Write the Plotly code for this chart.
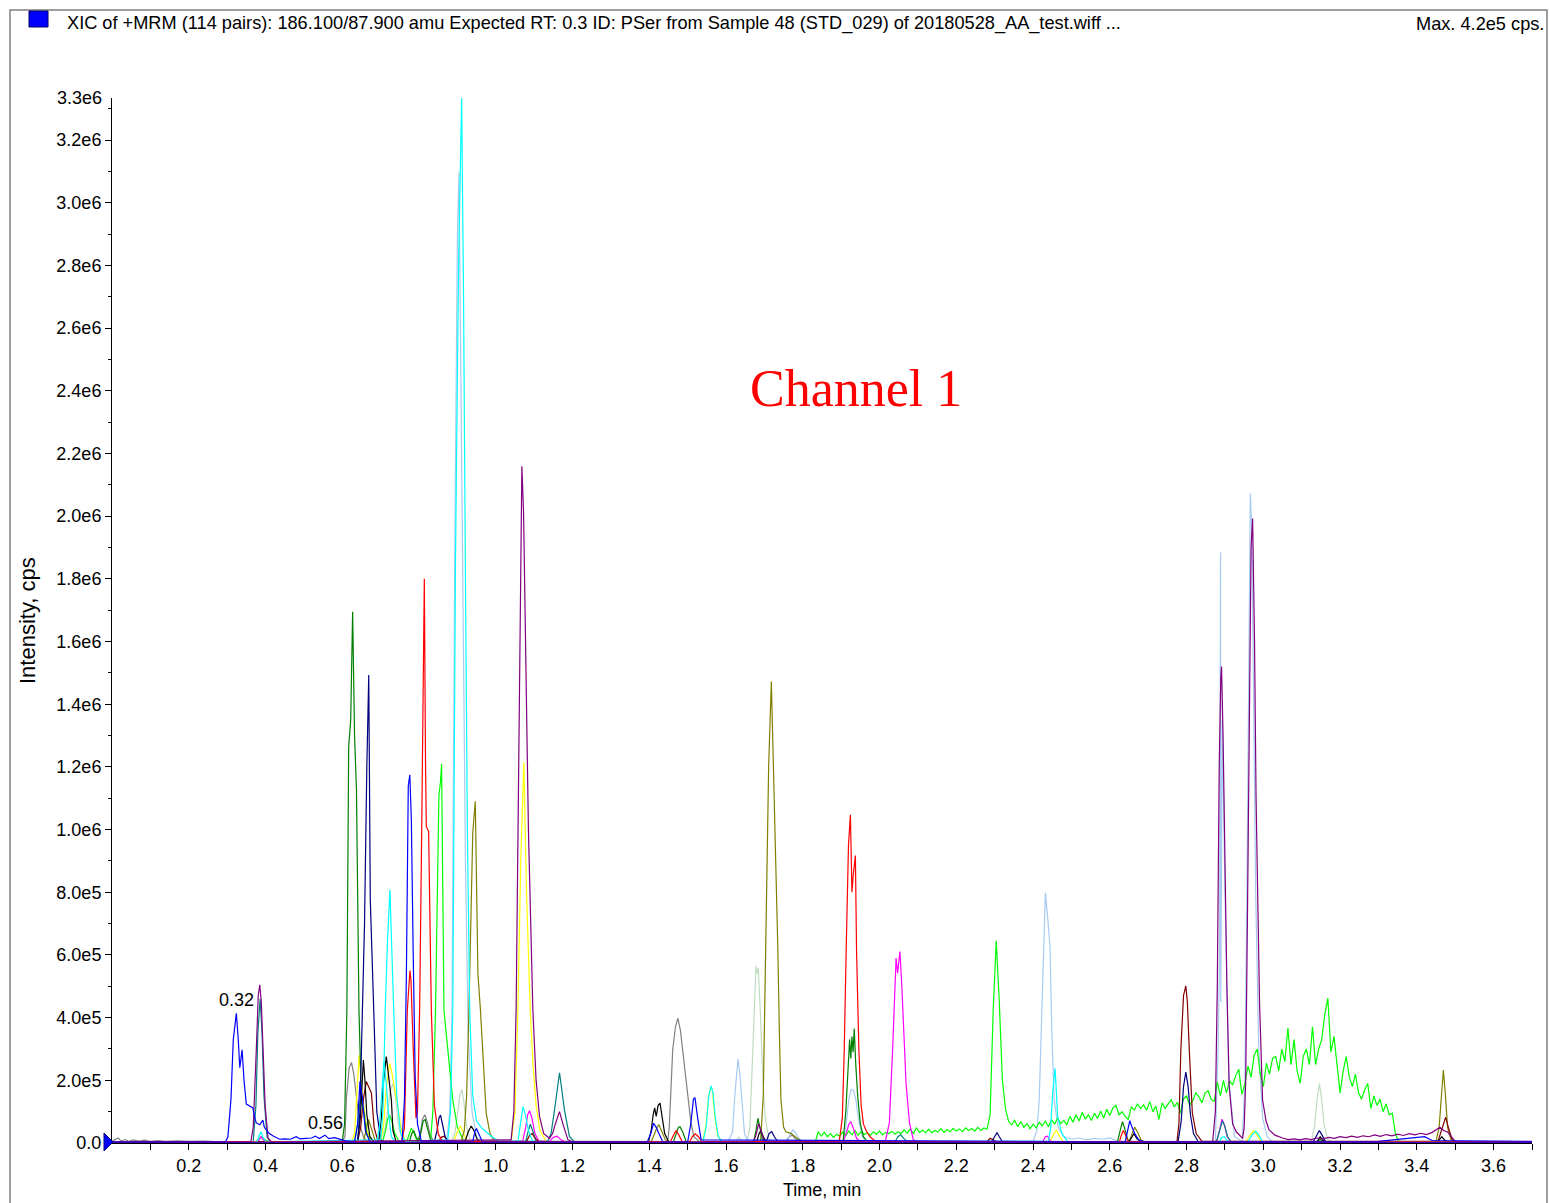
import plotly.graph_objects as go

# ---------------- data (time in min, intensity in 1e6 cps) ----------------
BASE_T = [0.0, 3.70]
BASE_I = [0.0, 0.0]

GRAY = [(0.000,0.006),(0.008,0.012),(0.016,0.016),(0.024,0.006),(0.034,0.011),(0.045,0.005),(0.056,0.010),
        (0.07,0.006),(0.085,0.009),(0.10,0.005),(0.12,0.008),(0.14,0.005),(0.17,0.007),(0.20,0.005),(0.24,0.006),
        (0.28,0.004),(0.40,0.004),(0.600,0.005),(0.607,0.02),(0.611,0.148),(0.618,0.24),(0.624,0.257),(0.630,0.22),
        (0.637,0.148),(0.645,0.06),(0.655,0.02),(0.665,0.005),(0.795,0.004),(0.803,0.03),(0.809,0.075),(0.815,0.09),
        (0.821,0.07),(0.828,0.03),(0.838,0.004),(1.448,0.005),(1.452,0.05),(1.457,0.17),(1.461,0.297),(1.468,0.37),
        (1.4745,0.398),(1.481,0.36),(1.487,0.297),(1.500,0.17),(1.508,0.07),(1.516,0.02),(1.530,0.005),(1.755,0.004),
        (1.765,0.02),(1.772,0.025),(1.782,0.012),(1.795,0.004),(3.70,0.004)]

SKY = [(0.0,0.003),(0.872,0.004),(0.880,0.1),(0.886,0.425),(0.893,1.86),(0.900,2.9),(0.904,3.096),(0.908,2.6),
       (0.914,1.86),(0.921,0.9),(0.928,0.35),(0.938,0.1),(0.950,0.02),(0.965,0.004),(1.605,0.004),(1.617,0.035),
       (1.622,0.137),(1.627,0.23),(1.631,0.268),(1.636,0.22),(1.642,0.137),(1.648,0.03),(1.658,0.004),(1.760,0.004),
       (1.768,0.03),(1.775,0.042),(1.782,0.03),(1.792,0.01),(1.800,0.004),(1.905,0.004),(1.912,0.05),(1.920,0.14),
       (1.926,0.17),(1.932,0.168),(1.938,0.14),(1.946,0.07),(1.955,0.02),(1.965,0.004),(2.400,0.005),(2.410,0.04),
       (2.416,0.137),(2.422,0.4),(2.428,0.7),(2.432,0.798),(2.438,0.72),(2.444,0.627),(2.449,0.35),(2.455,0.137),
       (2.465,0.05),(2.480,0.02),(2.500,0.012),(2.52,0.016),(2.54,0.01),(2.56,0.015),(2.58,0.012),(2.60,0.016),
       (2.62,0.006),(2.875,0.004),(2.882,0.3),(2.886,0.6),(2.8885,1.884),(2.889,0.45),(2.893,1.35),(2.900,0.8),
       (2.910,0.2),(2.925,0.02),(2.945,0.005),(2.952,0.2),(2.957,0.776),(2.962,1.6),(2.966,2.072),(2.970,1.95),
       (2.975,1.4),(2.980,0.8),(2.988,0.3),(2.998,0.08),(3.010,0.02),(3.025,0.004),(3.70,0.004)]

MONEY = [(0.0,0.003),(0.700,0.004),(0.712,0.05),(0.720,0.12),(0.726,0.17),(0.732,0.19),(0.738,0.15),(0.746,0.06),
         (0.756,0.01),(0.885,0.004),(0.893,0.03),(0.900,0.09),(0.906,0.15),(0.9117,0.171),(0.917,0.13),(0.924,0.05),
         (0.934,0.008),(1.625,0.004),(1.633,0.02),(1.640,0.004),(1.655,0.005),(1.662,0.05),(1.6696,0.297),(1.675,0.5),
         (1.678,0.565),(1.681,0.54),(1.684,0.558),(1.690,0.4),(1.696,0.2),(1.702,0.08),(1.712,0.01),(1.725,0.004),
         (3.125,0.005),(3.133,0.05),(3.140,0.14),(3.146,0.19),(3.152,0.14),(3.158,0.06),(3.168,0.01),(3.180,0.004),
         (3.70,0.004)]

LIME_A = [(0.0,0.004),(0.375,0.004),(0.383,0.012),(0.390,0.02),(0.398,0.01),(0.410,0.004),(0.632,0.004),(0.640,0.06),
          (0.645,0.12),(0.650,0.15),(0.656,0.11),(0.664,0.04),(0.675,0.005),(0.705,0.004),(0.713,0.04),(0.718,0.075),
          (0.723,0.089),(0.729,0.07),(0.737,0.03),(0.748,0.005),(0.768,0.005),(0.775,0.03),(0.780,0.047),(0.786,0.035),
          (0.795,0.005),(0.830,0.005),(0.836,0.1),(0.843,0.425),(0.8518,1.11),(0.8558,1.15),(0.8588,1.209),(0.862,0.8),
          (0.865,0.425),(0.870,0.36),(0.878,0.25),(0.888,0.137),(0.900,0.05),(0.915,0.01),(0.930,0.004)]
LIME_T0 = 1.832
LIME_DT = 0.008
LIME_NOISE = [0.000,0.036,0.022,0.034,0.020,0.030,0.018,0.028,0.022,0.035,0.024,0.038,0.026,0.040,0.025,0.036,
              0.027,0.033,0.024,0.036,0.028,0.038,0.026,0.034,0.030,0.037,0.028,0.036,0.030,0.042,0.031,0.045,
              0.030,0.048,0.034,0.041,0.032,0.044,0.033,0.040,0.035,0.046,0.034,0.043,0.036,0.047,0.038,0.045,
              0.036,0.048,0.040,0.046,0.038,0.050,0.040,0.048,0.044,0.090,0.420,0.645,0.450,0.200,0.110,0.070,
              0.058,0.072,0.052,0.068,0.050,0.062,0.045,0.060,0.048,0.066,0.055,0.070,0.052,0.075,0.060,0.080,
              0.062,0.072,0.058,0.085,0.066,0.090,0.070,0.098,0.076,0.090,0.072,0.095,0.078,0.102,0.080,0.108,
              0.088,0.112,0.120,0.090,0.100,0.085,0.075,0.115,0.105,0.125,0.110,0.122,0.105,0.132,0.100,0.118,
              0.075,0.128,0.110,0.125,0.138,0.115,0.130,0.095,0.140,0.150,0.120,0.135,0.160,0.148,0.128,0.160,
              0.166,0.140,0.132,0.195,0.150,0.200,0.160,0.198,0.185,0.215,0.235,0.155,0.190,0.245,0.210,0.280,
              0.300,0.220,0.180,0.255,0.220,0.270,0.276,0.230,0.300,0.260,0.367,0.250,0.330,0.230,0.190,0.276,
              0.300,0.250,0.371,0.250,0.300,0.330,0.409,0.462,0.290,0.340,0.250,0.159,0.230,0.276,0.210,0.180,
              0.220,0.160,0.140,0.170,0.190,0.110,0.150,0.120,0.140,0.100,0.125,0.090,0.095,0.030,0.005]
LIME_END = [(3.36,0.003),(3.70,0.003)]

YELLOW = [(0.0,0.003),(0.625,0.004),(0.632,0.03),(0.638,0.15),(0.644,0.281),(0.649,0.2),(0.654,0.137),(0.662,0.05),
          (0.672,0.008),(0.700,0.005),(0.708,0.06),(0.715,0.18),(0.7234,0.254),(0.730,0.22),(0.738,0.16),(0.745,0.116),
          (0.754,0.04),(0.765,0.005),(0.890,0.004),(0.898,0.03),(0.908,0.054),(0.915,0.035),(0.925,0.005),(1.040,0.005),
          (1.050,0.1),(1.0576,0.425),(1.065,0.9),(1.0732,1.215),(1.080,0.8),(1.0898,0.425),(1.097,0.25),(1.105,0.12),
          (1.115,0.04),(1.130,0.008),(1.140,0.004),(1.539,0.005),(1.547,0.05),(1.554,0.14),(1.559,0.175),(1.564,0.17),
          (1.571,0.08),(1.579,0.02),(1.589,0.004),(2.445,0.004),(2.452,0.025),(2.460,0.04),(2.468,0.025),(2.478,0.004),
          (2.955,0.004),(2.965,0.025),(2.975,0.04),(2.985,0.02),(2.995,0.004),(3.70,0.003)]

MAGENTA = [(0.0,0.003),(0.380,0.004),(0.388,0.02),(0.396,0.008),(0.405,0.004),(1.070,0.005),(1.078,0.05),(1.083,0.09),
           (1.088,0.103),(1.094,0.08),(1.102,0.03),(1.112,0.006),(1.140,0.005),(1.150,0.018),(1.160,0.022),(1.170,0.01),
           (1.180,0.004),(1.905,0.004),(1.913,0.03),(1.920,0.06),(1.925,0.068),(1.931,0.05),(1.940,0.015),(1.950,0.004),
           (2.015,0.005),(2.0255,0.064),(2.034,0.297),(2.040,0.5),(2.043,0.59),(2.047,0.542),(2.053,0.611),(2.058,0.5),
           (2.064,0.3),(2.069,0.19),(2.078,0.064),(2.088,0.01),(2.098,0.004),(2.425,0.004),(2.432,0.02),(2.438,0.022),
           (2.446,0.005),(2.878,0.004),(2.886,0.04),(2.892,0.076),(2.898,0.06),(2.906,0.02),(2.915,0.004),(3.70,0.003)]

TEAL = [(0.0,0.003),(0.368,0.005),(0.375,0.12),(0.380,0.35),(0.386,0.46),(0.391,0.35),(0.396,0.15),(0.404,0.02),
        (0.412,0.004),(1.078,0.005),(1.085,0.04),(1.090,0.06),(1.096,0.04),(1.105,0.005),(1.135,0.005),(1.144,0.03),
        (1.153,0.105),(1.1661,0.224),(1.179,0.105),(1.192,0.02),(1.205,0.004),(2.040,0.004),(2.048,0.02),(2.055,0.026),
        (2.063,0.015),(2.072,0.004),(2.878,0.004),(2.886,0.035),(2.893,0.07),(2.899,0.055),(2.907,0.02),(2.916,0.004),
        (3.70,0.003)]

OLIVE = [(0.0,0.003),(0.655,0.004),(0.662,0.04),(0.668,0.075),(0.675,0.05),(0.685,0.01),(0.695,0.004),(0.910,0.005),
         (0.918,0.04),(0.924,0.15),(0.930,0.425),(0.936,0.8),(0.940,0.99),(0.9466,1.09),(0.950,0.8),(0.9534,0.54),
         (0.960,0.425),(0.966,0.3),(0.975,0.095),(0.985,0.03),(0.995,0.008),(1.005,0.004),(1.405,0.004),(1.414,0.03),
         (1.420,0.05),(1.425,0.058),(1.432,0.04),(1.442,0.01),(1.452,0.004),(1.690,0.005),(1.697,0.15),(1.704,0.616),
         (1.711,1.2),(1.718,1.472),(1.724,1.2),(1.730,0.9),(1.735,0.616),(1.739,0.35),(1.743,0.137),(1.750,0.05),
         (1.756,0.036),(1.770,0.03),(1.785,0.015),(1.800,0.005),(2.650,0.004),(2.658,0.03),(2.665,0.05),(2.672,0.035),
         (2.682,0.008),(2.692,0.004),(3.450,0.005),(3.458,0.05),(3.464,0.16),(3.469,0.233),(3.474,0.16),(3.480,0.05),
         (3.490,0.005),(3.70,0.003)]

MAROON = [(0.0,0.003),(0.640,0.005),(0.648,0.05),(0.655,0.14),(0.6627,0.196),(0.669,0.18),(0.676,0.159),(0.683,0.05),
          (0.692,0.01),(0.700,0.004),(0.850,0.004),(0.858,0.018),(0.866,0.022),(0.875,0.005),(1.080,0.004),(1.088,0.025),
          (1.095,0.03),(1.103,0.015),(1.112,0.004),(2.280,0.004),(2.288,0.015),(2.296,0.01),(2.305,0.004),(2.775,0.005),
          (2.780,0.06),(2.785,0.297),(2.792,0.47),(2.798,0.501),(2.802,0.45),(2.807,0.297),(2.815,0.095),(2.825,0.03),
          (2.840,0.005),(3.455,0.005),(3.465,0.04),(3.475,0.082),(3.482,0.05),(3.492,0.01),(3.502,0.004),(3.70,0.003)]

GREEN = [(0.0,0.003),(0.600,0.005),(0.606,0.06),(0.612,0.425),(0.6167,1.265),(0.622,1.35),(0.627,1.695),(0.632,1.3),
         (0.637,1.127),(0.6435,0.425),(0.650,0.13),(0.656,0.1),(0.663,0.03),(0.672,0.005),(0.775,0.004),(0.781,0.03),
         (0.786,0.04),(0.792,0.02),(0.800,0.005),(0.806,0.04),(0.811,0.07),(0.816,0.075),(0.822,0.05),(0.830,0.01),
         (0.840,0.004),(1.463,0.004),(1.470,0.03),(1.476,0.05),(1.480,0.052),(1.487,0.035),(1.496,0.005),(1.672,0.004),
         (1.678,0.04),(1.683,0.079),(1.688,0.05),(1.695,0.01),(1.703,0.004),(1.905,0.004),(1.912,0.1),(1.918,0.25),
         (1.922,0.33),(1.925,0.27),(1.928,0.34),(1.931,0.29),(1.934,0.365),(1.938,0.25),(1.943,0.15),(1.950,0.06),
         (1.958,0.02),(1.968,0.004),(2.620,0.004),(2.627,0.04),(2.633,0.068),(2.639,0.045),(2.647,0.01),(2.655,0.004),
         (3.140,0.004),(3.148,0.012),(3.156,0.004),(3.70,0.003)]

BLACK = [(0.0,0.003),(0.640,0.005),(0.647,0.08),(0.651,0.2),(0.655,0.265),(0.659,0.2),(0.664,0.09),(0.672,0.02),
         (0.682,0.005),(0.695,0.005),(0.702,0.08),(0.706,0.18),(0.7148,0.276),(0.722,0.2),(0.728,0.137),(0.732,0.04),
         (0.740,0.005),(0.920,0.004),(0.928,0.035),(0.936,0.054),(0.943,0.04),(0.952,0.01),(0.960,0.004),(1.398,0.005),
         (1.405,0.04),(1.410,0.09),(1.414,0.112),(1.418,0.085),(1.423,0.12),(1.428,0.127),(1.434,0.08),(1.440,0.03),
         (1.450,0.005),(1.680,0.004),(1.686,0.03),(1.691,0.04),(1.697,0.02),(1.705,0.004),(2.650,0.004),(2.658,0.02),
         (2.663,0.03),(2.670,0.015),(2.680,0.004),(3.140,0.004),(3.148,0.02),(3.156,0.008),(3.165,0.004),(3.455,0.004),
         (3.465,0.02),(3.473,0.008),(3.482,0.004),(3.70,0.003)]

NAVY = [(0.0,0.003),(0.640,0.005),(0.646,0.1),(0.652,0.425),(0.658,0.70),(0.664,1.2),(0.669,1.493),(0.673,0.776),
        (0.678,0.6),(0.682,0.425),(0.690,0.1),(0.700,0.01),(0.710,0.004),(0.840,0.004),(0.847,0.04),(0.852,0.08),
        (0.856,0.089),(0.861,0.06),(0.868,0.02),(0.876,0.004),(1.705,0.004),(1.712,0.03),(1.719,0.036),(1.726,0.02),
        (1.735,0.004),(2.292,0.004),(2.300,0.02),(2.306,0.033),(2.312,0.02),(2.320,0.004),(2.778,0.005),(2.786,0.07),
        (2.792,0.18),(2.798,0.226),(2.804,0.18),(2.810,0.09),(2.818,0.03),(2.830,0.005),(3.130,0.004),(3.138,0.02),
        (3.146,0.04),(3.153,0.025),(3.162,0.004),(3.70,0.003)]

CYAN = [(0.0,0.003),(0.378,0.004),(0.384,0.025),(0.388,0.036),(0.393,0.02),(0.400,0.004),(0.700,0.01),(0.706,0.1),
        (0.712,0.425),(0.718,0.65),(0.7242,0.808),(0.729,0.6),(0.734,0.425),(0.742,0.15),(0.752,0.03),(0.765,0.005),
        (0.875,0.01),(0.882,0.1),(0.888,0.425),(0.895,1.86),(0.903,2.8),(0.911,3.336),(0.916,2.7),(0.9206,1.86),
        (0.926,1.0),(0.932,0.425),(0.940,0.15),(0.950,0.07),(0.962,0.05),(0.975,0.035),(0.990,0.02),(1.010,0.005),
        (1.058,0.005),(1.064,0.06),(1.071,0.116),(1.077,0.09),(1.085,0.04),(1.095,0.008),(1.105,0.004),(1.540,0.005),
        (1.548,0.05),(1.555,0.15),(1.561,0.182),(1.566,0.16),(1.572,0.08),(1.580,0.02),(1.590,0.004),(2.440,0.005),
        (2.446,0.05),(2.451,0.16),(2.457,0.238),(2.460,0.18),(2.464,0.084),(2.475,0.03),(2.490,0.005),(2.885,0.004),
        (2.892,0.018),(2.898,0.02),(2.905,0.008),(2.912,0.004),(2.960,0.004),(2.970,0.025),(2.980,0.038),(2.988,0.025),
        (2.998,0.004),(3.70,0.003)]
CYAN2 = [(0.690,0.004),(0.697,0.05),(0.703,0.16),(0.7086,0.26),(0.714,0.2),(0.720,0.1),(0.728,0.02),(0.738,0.004)]

RED = [(0.0,0.0),(0.755,0.005),(0.762,0.05),(0.7695,0.425),(0.7764,0.55),(0.779,0.52),(0.785,0.3),(0.792,0.08),
       (0.796,0.1),(0.8016,0.425),(0.807,1.0),(0.8138,1.80),(0.817,1.2),(0.819,1.01),(0.825,0.994),(0.832,0.425),
       (0.840,0.12),(0.850,0.03),(0.860,0.005),(1.455,0.004),(1.463,0.025),(1.470,0.04),(1.477,0.025),(1.486,0.004),
       (1.505,0.004),(1.512,0.02),(1.520,0.029),(1.528,0.02),(1.537,0.004),(1.895,0.005),(1.903,0.08),(1.908,0.3),
       (1.913,0.616),(1.919,0.95),(1.924,1.047),(1.928,0.8),(1.931,0.85),(1.937,0.917),(1.940,0.616),(1.946,0.3),
       (1.952,0.12),(1.958,0.06),(1.965,0.04),(1.975,0.02),(1.990,0.005),(2.625,0.004),(2.630,0.025),(2.635,0.04),
       (2.641,0.025),(2.648,0.004),(3.70,0.003)]

PURPLE = [(0.0,0.003),(0.362,0.005),(0.368,0.05),(0.372,0.15),(0.376,0.297),(0.381,0.47),(0.385,0.505),(0.389,0.45),
          (0.3935,0.297),(0.399,0.12),(0.4065,0.016),(0.415,0.004),(1.040,0.01),(1.047,0.1),(1.053,0.425),(1.058,1.0),
          (1.063,1.7),(1.068,2.159),(1.0724,2.01),(1.078,1.5),(1.085,1.0),(1.0966,0.425),(1.105,0.2),(1.114,0.084),
          (1.125,0.03),(1.140,0.015),(1.148,0.03),(1.155,0.06),(1.166,0.1),(1.175,0.06),(1.188,0.01),(1.200,0.004),
          (1.672,0.004),(1.679,0.03),(1.685,0.062),(1.691,0.04),(1.700,0.004),(2.868,0.005),(2.875,0.1),(2.880,0.5),
          (2.885,1.2),(2.889,1.48),(2.891,1.52),(2.895,1.3),(2.900,0.9),(2.905,0.5),(2.911,0.18),(2.920,0.06),
          (2.930,0.035),(2.946,0.015),(2.950,0.05),(2.954,0.2),(2.959,0.776),(2.964,1.5),(2.968,1.9),(2.972,1.992),
          (2.977,1.6),(2.981,1.1),(2.985,0.776),(2.990,0.45),(2.998,0.137),(3.007,0.07),(3.015,0.042),(3.030,0.025),
          (3.050,0.016),(3.065,0.011),(3.08,0.013),(3.095,0.010),(3.11,0.014),(3.125,0.011),(3.14,0.016),(3.155,0.013),
          (3.17,0.018),(3.185,0.015),(3.20,0.020),(3.215,0.017),(3.23,0.022),(3.245,0.018),(3.26,0.023),(3.275,0.020),
          (3.29,0.026),(3.305,0.021),(3.32,0.027),(3.335,0.023),(3.35,0.028),(3.365,0.024),(3.38,0.030),(3.395,0.026),
          (3.41,0.031),(3.425,0.027),(3.44,0.034),(3.45,0.042),(3.46,0.05),(3.47,0.04),(3.48,0.035),(3.50,0.005),
          (3.70,0.003)]

BLUE = [(0.000,0.004),(0.296,0.004),(0.302,0.02),(0.310,0.14),(0.316,0.33),(0.324,0.414),(0.329,0.33),(0.333,0.24),
        (0.339,0.297),(0.344,0.2),(0.350,0.124),(0.358,0.118),(0.367,0.112),(0.372,0.08),(0.376,0.064),(0.385,0.058),
        (0.393,0.073),(0.397,0.05),(0.402,0.041),(0.41,0.03),(0.42,0.022),(0.437,0.012),(0.45,0.013),(0.465,0.012),
        (0.48,0.02),(0.49,0.013),(0.505,0.015),(0.52,0.016),(0.53,0.022),(0.54,0.014),(0.555,0.025),(0.565,0.014),
        (0.58,0.017),(0.595,0.012),(0.61,0.006),(0.632,0.004),(0.640,0.06),(0.646,0.196),(0.652,0.15),(0.660,0.04),
        (0.672,0.004),(0.756,0.004),(0.762,0.14),(0.767,0.53),(0.772,1.14),(0.776,1.175),(0.780,1.03),(0.785,0.59),
        (0.790,0.21),(0.796,0.06),(0.806,0.006),(0.940,0.004),(0.946,0.04),(0.950,0.045),(0.956,0.03),(0.965,0.004),
        (1.395,0.004),(1.404,0.03),(1.411,0.063),(1.418,0.05),(1.425,0.03),(1.435,0.004),(1.500,0.004),(1.508,0.06),
        (1.515,0.14),(1.519,0.145),(1.526,0.08),(1.535,0.01),(2.640,0.004),(2.647,0.05),(2.652,0.071),(2.658,0.05),
        (2.665,0.03),(2.675,0.01),(2.690,0.004),(3.30,0.005),(3.42,0.02),(3.44,0.008),(3.70,0.005)]

Y_TICKS = [0.0, 0.2, 0.4, 0.6, 0.8, 1.0, 1.2, 1.4, 1.6, 1.8, 2.0, 2.2, 2.4, 2.6, 2.8, 3.0, 3.2]
Y_LABELS = ["0.0", "2.0e5", "4.0e5", "6.0e5", "8.0e5", "1.0e6", "1.2e6", "1.4e6", "1.6e6", "1.8e6", "2.0e6",
            "2.2e6", "2.4e6", "2.6e6", "2.8e6", "3.0e6", "3.2e6"]
X_TICKS = [round(0.1 * k, 1) for k in range(1, 38)]
X_LABELS = [f"{v:.1f}" if k % 2 == 0 else "" for k, v in zip(range(1, 38), X_TICKS)]

# ---------------- figure ----------------
W, H = 1550, 1203
L, R, T, B = 112, 18, 98, 60
PW, PH = W - L - R, H - T - B
def px(x):
    return (x - L) / PW
def py(y):
    return (H - B - y) / PH

FONT = "Liberation Sans, Arial, sans-serif"
FS = 18

fig = go.Figure()

def add(pts, color, width=1.2):
    fig.add_trace(go.Scatter(x=[p[0] for p in pts], y=[p[1] for p in pts], mode="lines",
                             line=dict(color=color, width=width), hoverinfo="skip", showlegend=False))

lime_pts = LIME_A + [(round(LIME_T0 + LIME_DT * i, 3), v) for i, v in enumerate(LIME_NOISE)] + LIME_END

add(GRAY, "#808080")
add(SKY, "#A6CAF0")
add(MONEY, "#C0DCC0")
add(lime_pts, "#00FF00")
add(YELLOW, "#FFFF00")
add(MAGENTA, "#FF00FF")
add(TEAL, "#008080")
add(OLIVE, "#808000")
add(MAROON, "#800000")
add(GREEN, "#008000")
add(BLACK, "#000000")
add(NAVY, "#000080")
add(CYAN, "#00FFFF")
add(CYAN2, "#00FFFF")
add(RED, "#FF0000")
add(PURPLE, "#800080")
add(BLUE, "#0000FF")
fig.add_trace(go.Scatter(x=BASE_T, y=BASE_I, mode="lines", line=dict(color="#FF0000", width=2.5),
                         hoverinfo="skip", showlegend=False))
fig.add_trace(go.Scatter(x=BASE_T, y=BASE_I, mode="lines", line=dict(color="#0000FF", width=1.5),
                         hoverinfo="skip", showlegend=False))

fig.update_layout(
    width=W, height=H, autosize=False,
    margin=dict(l=L, r=R, t=T, b=B, pad=0),
    paper_bgcolor="white", plot_bgcolor="white",
    font=dict(family=FONT, size=FS, color="black"),
    xaxis=dict(range=[0, 3.70], tickmode="array", tickvals=X_TICKS, ticktext=X_LABELS,
               ticks="outside", ticklen=6, tickwidth=1, tickcolor="black", showgrid=False,
               zeroline=False, showline=True, linecolor="black", linewidth=1,
               tickfont=dict(family=FONT, size=FS, color="black")),
    yaxis=dict(range=[0, 3.334], tickmode="array", tickvals=Y_TICKS, ticktext=Y_LABELS,
               ticks="outside", ticklen=6, tickwidth=1, tickcolor="black", showgrid=False,
               zeroline=False, showline=True, linecolor="black", linewidth=1,
               tickfont=dict(family=FONT, size=FS, color="black"),
               minor=dict(tick0=0.1, dtick=0.2, ticks="outside", ticklen=3, tickcolor="black", tickwidth=1)),
)

shapes = [
    dict(type="rect", xref="paper", yref="paper", x0=px(10), x1=px(1547), y0=py(1230), y1=py(10),
         line=dict(color="#7F7F7F", width=1.5), fillcolor="rgba(0,0,0,0)", layer="below"),
    dict(type="rect", xref="paper", yref="paper", x0=px(29), x1=px(48), y0=py(27), y1=py(11),
         line=dict(color="#000060", width=1), fillcolor="#0000FF"),
    dict(type="path", xref="paper", yref="paper",
         path=f"M {px(104)} {py(1133)} L {px(113)} {py(1142)} L {px(104)} {py(1151)} Z",
         line=dict(color="#000080", width=1), fillcolor="#0000FF"),
]
fig.update_layout(shapes=shapes)

ann = [
    dict(text="XIC of +MRM (114 pairs): 186.100/87.900 amu Expected RT: 0.3 ID: PSer from Sample 48 (STD_029) of 20180528_AA_test.wiff ...",
         x=px(65), y=py(24), xanchor="left", yanchor="middle", font=dict(family=FONT, size=18.2, color="black")),
    dict(text="Max. 4.2e5 cps.", x=px(1546), y=py(24), xanchor="right", yanchor="middle",
         font=dict(family=FONT, size=18.2, color="black")),
    dict(text="Channel 1", x=px(856), y=py(388), xanchor="center", yanchor="middle",
         font=dict(family="Liberation Serif, Times New Roman, serif", size=52, color="#FF0000")),
    dict(text="Intensity, cps", x=px(27), y=py(621), xanchor="center", yanchor="middle", textangle=-90,
         font=dict(family=FONT, size=22, color="black")),
    dict(text="Time, min", x=px(822), y=py(1190), xanchor="center", yanchor="middle",
         font=dict(family=FONT, size=FS, color="black")),
    dict(text="3.3e6", x=px(104), y=py(98), xanchor="right", yanchor="middle",
         font=dict(family=FONT, size=FS, color="black")),
]
for a in ann:
    a.update(xref="paper", yref="paper", showarrow=False)
ann += [
    dict(text="0.32", x=0.325, y=0.456, xref="x", yref="y", showarrow=False, font=dict(family=FONT, size=FS)),
    dict(text="0.56", x=0.555, y=0.064, xref="x", yref="y", showarrow=False, font=dict(family=FONT, size=FS)),
]
fig.update_layout(annotations=ann)

fig.write_html("out.html")
